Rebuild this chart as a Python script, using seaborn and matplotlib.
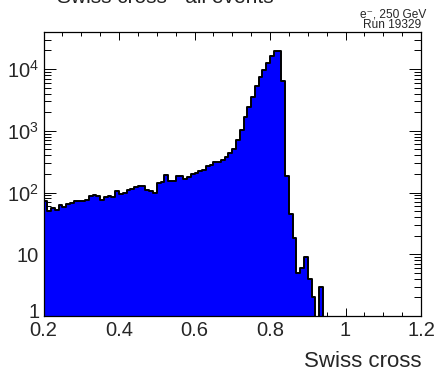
import numpy as np
import pandas as pd
import matplotlib
matplotlib.use("Agg")
import matplotlib.pyplot as plt
import matplotlib.transforms as mtransforms
import seaborn as sns
from matplotlib.ticker import MultipleLocator, FixedLocator, FixedFormatter, LogLocator, NullFormatter

# ---- data ----
bin_edges = [round(0.20 + 0.01 * i, 2) for i in range(101)]
counts = [
    74, 51, 56, 53, 62, 59, 65, 68, 72, 73,          # 0.20-0.29
    72, 76, 89, 90, 88, 76, 85, 88, 86, 106,         # 0.30-0.39
    95, 97, 108, 116, 122, 126, 126, 110, 104, 97,   # 0.40-0.49
    145, 150, 195, 152, 152, 187, 186, 166, 176, 200,  # 0.50-0.59
    208, 224, 232, 265, 280, 316, 316, 335, 372, 440,  # 0.60-0.69
    515, 705, 1025, 1640, 2420, 3560, 5300, 7400, 9700, 12450,  # 0.70-0.79
    16300, 19500, 19500, 6450, 187, 45, 18, 5, 6, 9,  # 0.80-0.89
    4, 2, 0, 3, 0, 0, 0, 0, 0, 0,                    # 0.90-0.99
    0, 0, 0, 0, 0, 0, 0, 0, 0, 0,                    # 1.00-1.09
    0, 0, 0, 0, 0, 0, 0, 0, 0, 0,                    # 1.10-1.19
]
bin_centers = [(a + b) / 2 for a, b in zip(bin_edges[:-1], bin_edges[1:])]
y_ticks = [1, 10, 100, 1000, 10000]
y_ticklabels = ["", "10", r"$\mathregular{10^{2}}$", r"$\mathregular{10^{3}}$", r"$\mathregular{10^{4}}$"]
y_bottom_label = "1"
x_ticks = [0.2, 0.4, 0.6, 0.8, 1.0, 1.2]
x_ticklabels = ["0.2", "0.4", "0.6", "0.8", "1", "1.2"]
title_text = "Swiss cross - all events"
xlabel_text = "Swiss cross"
beam_text = "e\u207b, 250 GeV"
run_text = "Run 19329"

df = pd.DataFrame({"swiss": bin_centers, "n": counts})

# ---- style ----
sns.set_theme(style="white")
plt.rcParams["font.family"] = ["Liberation Sans", "DejaVu Sans"]
plt.rcParams["mathtext.fontset"] = "custom"
plt.rcParams["mathtext.rm"] = "Liberation Sans"

fig = plt.figure(figsize=(4.36, 3.71), dpi=100)
ax = fig.add_axes([0.0998, 0.1482, 0.8658, 0.7642])

sns.histplot(data=df, x="swiss", weights="n", bins=bin_edges, element="step",
             fill=True, color="#0000ff", edgecolor="black", linewidth=1.4,
             alpha=1.0, ax=ax, legend=False)

ax.set_yscale("log")
ax.set_xlim(0.2, 1.2)
ax.set_ylim(1, 3.9e4)

ax.xaxis.set_major_locator(FixedLocator(x_ticks))
ax.xaxis.set_major_formatter(FixedFormatter(x_ticklabels))
ax.xaxis.set_minor_locator(MultipleLocator(0.05))
ax.yaxis.set_major_locator(FixedLocator(y_ticks))
ax.yaxis.set_major_formatter(FixedFormatter(y_ticklabels))
ax.yaxis.set_minor_locator(LogLocator(base=10, subs=np.arange(2, 10)))
ax.yaxis.set_minor_formatter(NullFormatter())

ax.tick_params(axis="x", which="major", direction="in", length=5.8, width=0.7,
               top=True, bottom=True, labelsize=14.5, pad=3.5, color="black")
ax.tick_params(axis="x", which="minor", direction="in", length=2.9, width=0.7,
               top=True, bottom=True, color="black")
ax.tick_params(axis="y", which="major", direction="in", length=8.6, width=0.7,
               left=True, right=True, labelsize=14.5, pad=3.2, color="black")
ax.tick_params(axis="y", which="minor", direction="in", length=5.0, width=0.7,
               left=True, right=True, color="black")

for s in ax.spines.values():
    s.set_color("black")
    s.set_linewidth(0.9)

ax.set_xlabel("")
ax.set_ylabel("")

# ROOT-style bottom label "1": right-aligned left of the frame, baseline just below the corner
one_tr = ax.transAxes + mtransforms.ScaledTranslation(-3.0 / 72, -1.5 / 72, fig.dpi_scale_trans)
ax.text(0, 0, y_bottom_label, transform=one_tr, ha="right", va="baseline",
        fontsize=14.5, clip_on=False)

fig.text(0.9656, 0.0105, xlabel_text, ha="right", va="baseline", fontsize=16)
fig.text(0.977, 0.9534, beam_text, ha="right", va="baseline", fontsize=8.6)
fig.text(0.9656, 0.9253, run_text, ha="right", va="baseline", fontsize=8.6)
fig.text(0.1307, 0.992, title_text, ha="left", va="baseline", fontsize=15, color="#222222")

fig.savefig("out.png", dpi=100)
